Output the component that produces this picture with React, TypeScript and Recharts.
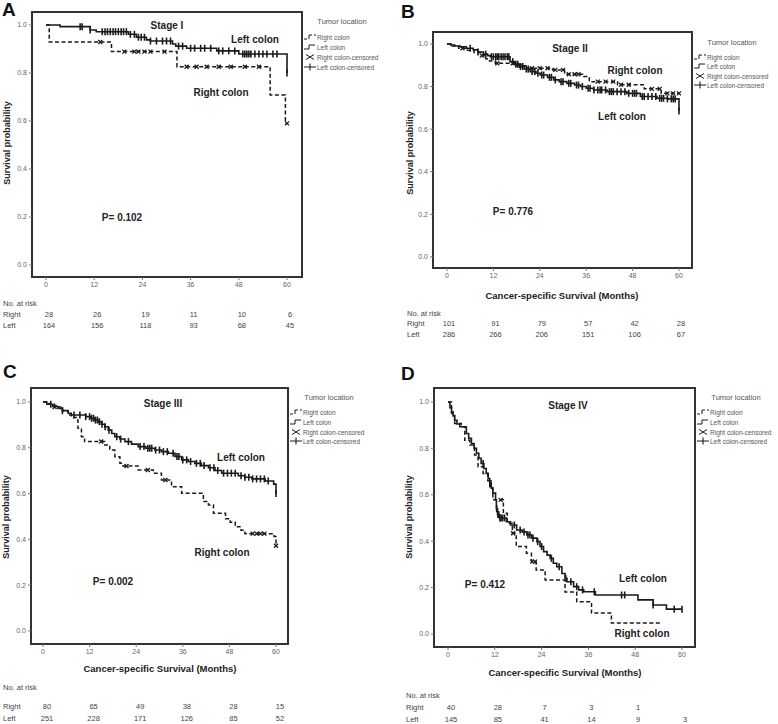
import { LineChart, Line, XAxis, YAxis, ReferenceArea } from "recharts";

const months = [0, 12, 24, 36, 48, 60];
const probTicks = [0, 0.2, 0.4, 0.6, 0.8, 1.0];

// Kaplan-Meier steps: [month, survival after the drop]
const stage1Left = [[0, 1], [3.5, 0.993], [11, 0.979], [12.5, 0.972], [20.5, 0.961], [22.5, 0.949], [25, 0.938], [26, 0.933], [31.5, 0.921], [32.3, 0.912], [35, 0.903], [42.5, 0.892], [48, 0.879], [60, 0.8]];
const stage1Right = [[0, 1], [0.8, 0.929], [16.3, 0.889], [32.6, 0.826], [55.8, 0.708], [59.6, 0.59]];
const stage1LeftCensor = [8.5, 9, 11, 14, 14.7, 15.3, 16, 16.7, 17.3, 18, 18.7, 19.3, 20, 21, 22, 23, 23.7, 24.5, 26, 27.5, 29, 30, 31, 33, 34, 36, 37, 38.5, 39.5, 41, 43, 44, 45.5, 47, 49, 49.5, 50, 50.5, 51, 52, 53, 54, 55, 56.5, 57.5, 60];
const stage1RightCensor = [13.5, 19.5, 22, 23, 24.5, 26, 29.5, 35, 37.5, 40, 43, 46, 49.5, 53, 60];

const stage2Left = [[0, 1], [1, 0.995], [2, 0.99], [3.4, 0.987], [5, 0.98], [6.8, 0.972], [8, 0.962], [9.4, 0.952], [10.5, 0.945], [11.2, 0.94], [16.3, 0.917], [17.5, 0.905], [18.9, 0.894], [20, 0.882], [21.5, 0.87], [23, 0.862], [24.1, 0.854], [26, 0.843], [27.6, 0.831], [29, 0.823], [31, 0.815], [33, 0.807], [34.5, 0.8], [36, 0.792], [37.9, 0.784], [41.4, 0.776], [46.5, 0.768], [50, 0.753], [54.3, 0.745], [57, 0.742], [60, 0.685]];
const stage2Right = [[0, 1], [1, 0.99], [3, 0.98], [5, 0.97], [7, 0.96], [9, 0.945], [10, 0.93], [11, 0.92], [12.5, 0.909], [18, 0.897], [21, 0.886], [27.3, 0.878], [30.4, 0.858], [35.4, 0.847], [36.8, 0.823], [44.1, 0.808], [51, 0.789], [55.4, 0.768]];
const stage2LeftCensor = [6, 8, 10, 11.5, 12, 12.6, 13, 13.4, 14, 14.5, 15, 15.6, 16, 17, 17.8, 18.3, 19, 19.6, 20.5, 21, 22, 22.7, 23.5, 24.5, 25, 26.5, 27, 28, 29.5, 30, 31.5, 32, 33.5, 34, 35, 36.5, 37, 38, 39, 39.6, 40, 41, 42, 42.5, 43, 44, 45, 46, 47, 48, 48.5, 49, 50.5, 51, 52, 53, 54, 55, 55.5, 56, 57, 58, 58.5, 59, 60];
const stage2RightCensor = [4, 9, 13, 17, 19, 22, 24, 26, 28, 30, 31.5, 33, 34, 39, 41, 43, 45, 47, 53, 55, 57, 58.5, 60];

const stage3Left = [[0, 1], [1, 0.99], [2.5, 0.98], [3.9, 0.972], [5, 0.962], [6.5, 0.951], [7.3, 0.943], [11, 0.936], [12.4, 0.929], [13.2, 0.921], [14.1, 0.914], [15, 0.903], [15.9, 0.892], [16.8, 0.877], [17.7, 0.862], [18.5, 0.848], [19.8, 0.838], [21.1, 0.827], [22.8, 0.816], [24.5, 0.805], [26.5, 0.798], [28.8, 0.79], [30.5, 0.783], [32.3, 0.776], [34, 0.762], [35.7, 0.747], [37.4, 0.74], [39.1, 0.732], [40.8, 0.722], [42.6, 0.713], [44.3, 0.701], [46, 0.689], [50.3, 0.678], [52, 0.671], [53.8, 0.664], [57.2, 0.655], [59.4, 0.641], [60, 0.6]];
const stage3Right = [[0, 1], [1.5, 0.99], [3, 0.978], [5, 0.962], [6.5, 0.943], [7.3, 0.932], [8.6, 0.921], [9, 0.885], [9.9, 0.848], [10.7, 0.827], [15.9, 0.812], [17.2, 0.79], [18.5, 0.761], [19.8, 0.732], [20.6, 0.72], [24.5, 0.703], [28.4, 0.689], [30.5, 0.659], [33.1, 0.63], [35.7, 0.601], [41.3, 0.565], [42.6, 0.55], [43.9, 0.514], [47, 0.49], [48.2, 0.475], [49.5, 0.455], [51, 0.44], [52, 0.425], [59.5, 0.412], [60, 0.372]];
const stage3LeftCensor = [2, 5, 8, 9.5, 11, 12, 12.5, 13, 13.5, 14, 14.5, 15.2, 16, 17, 19, 20, 22, 25, 26, 27, 27.5, 28, 29, 30, 31, 32, 33.5, 34.5, 35, 36, 37, 38, 39.5, 40.5, 41.5, 43, 44, 45, 46.5, 47.5, 48.5, 49.5, 51, 52, 53, 54, 55, 56, 57, 58, 60];
const stage3RightCensor = [3, 15, 21.5, 27, 31.5, 54, 55, 56, 57, 60];

const stage4Left = [[0, 1], [0.5, 0.975], [0.9, 0.957], [1.3, 0.94], [1.7, 0.921], [2.3, 0.905], [3, 0.893], [4.7, 0.864], [5.3, 0.843], [6, 0.821], [6.7, 0.8], [7.3, 0.779], [7.9, 0.757], [8.5, 0.735], [9.2, 0.713], [9.8, 0.692], [10.3, 0.67], [10.7, 0.649], [11.1, 0.628], [11.5, 0.607], [12.2, 0.578], [12.4, 0.54], [12.7, 0.515], [13.2, 0.5], [15, 0.484], [16, 0.47], [17.6, 0.448], [19, 0.44], [20.2, 0.427], [21.5, 0.413], [22.8, 0.398], [23.6, 0.377], [24.5, 0.355], [25.4, 0.34], [26.2, 0.326], [27, 0.305], [27.9, 0.29], [29.2, 0.261], [30, 0.24], [30.5, 0.225], [32.2, 0.204], [33.5, 0.19], [34.8, 0.182], [37.8, 0.168], [48.7, 0.147], [52.6, 0.125], [56, 0.107]];
const stage4Right = [[0, 1], [0.9, 0.95], [1.7, 0.907], [3.4, 0.893], [4.3, 0.835], [5.6, 0.814], [6.8, 0.771], [7.7, 0.721], [9, 0.692], [10.2, 0.66], [10.7, 0.635], [11.5, 0.578], [14.2, 0.52], [15.2, 0.477], [16.5, 0.434], [17.5, 0.377], [20.1, 0.348], [21.4, 0.312], [22.6, 0.276], [24.9, 0.233], [30, 0.181], [33, 0.139], [36.8, 0.09], [41.9, 0.047]];
const stage4LeftCensor = [9, 11, 12.5, 12.8, 13, 13.3, 13.6, 14, 14.5, 17, 18.5, 19.5, 20.5, 21, 21.8, 23, 24, 26.5, 28.5, 30.2, 31.5, 33, 34.5, 37.5, 44.5, 45.3, 52.6, 58, 60];
const stage4RightCensor = [13.5, 16.7, 21.6, 22.3];
const stage4RightEnd = 54.4;

// numbers at risk at 0, 12, 24, 36, 48, 60 months
const stage1RiskRight = ["28", "26", "19", "11", "10", "6"];
const stage1RiskLeft = ["164", "156", "118", "93", "68", "45"];
const stage2RiskRight = ["101", "91", "79", "57", "42", "28"];
const stage2RiskLeft = ["286", "266", "206", "151", "106", "67"];
const stage3RiskRight = ["80", "65", "49", "38", "28", "15"];
const stage3RiskLeft = ["251", "228", "171", "126", "85", "52"];
const stage4RiskRight = ["40", "28", "7", "3", "1", ""];
const stage4RiskLeft = ["145", "85", "41", "14", "9", "3"];

const legendItems = ["Right colon", "Left colon", "Right colon-censored", "Left colon-censored"];

const INK = "#1a1a1a";
const SANS = "'Liberation Sans', Arial, sans-serif";

type Pt = { t: number; s: number; c: boolean };

function buildCurve(steps: number[][], censor: number[], end?: number): Pt[] {
  const pts: Pt[] = steps.map(([t, s]) => ({ t, s, c: false }));
  censor.forEach((t) => {
    let s = steps[0][1];
    for (const [et, es] of steps) if (et <= t) s = es;
    pts.push({ t, s, c: true });
  });
  pts.sort((a, b) => a.t - b.t || Number(a.c) - Number(b.c));
  const last = pts[pts.length - 1];
  if (end !== undefined && end > last.t) pts.push({ t: end, s: last.s, c: false });
  return pts;
}

const leftMark = (p: any) =>
  p.payload && p.payload.c ? (
    <path key={p.index} d={`M${p.cx},${p.cy - 3.5}V${p.cy + 3.5}`} stroke={INK} strokeWidth={1.6} />
  ) : (
    <g key={p.index} />
  );

const rightMark = (p: any) =>
  p.payload && p.payload.c ? (
    <path
      key={p.index}
      d={`M${p.cx - 2},${p.cy - 2}L${p.cx + 2},${p.cy + 2}M${p.cx - 2},${p.cy + 2}L${p.cx + 2},${p.cy - 2}`}
      stroke={INK}
      strokeWidth={1.3}
    />
  ) : (
    <g key={p.index} />
  );

type Frame = { l: number; t: number; r: number; b: number };

function KmPanel({ frame, xDom, yDom, left, right }: { frame: Frame; xDom: number[]; yDom: number[]; left: Pt[]; right: Pt[] }) {
  const yw = 26;
  const top = 4;
  const xh = 22;
  const pad = 4;
  const w = frame.r - frame.l + yw + pad;
  const h = frame.b - frame.t + top + xh;
  const tickStyle = { fontSize: 7, fill: "#666", fontFamily: SANS };
  return (
    <div style={{ position: "absolute", left: frame.l - yw, top: frame.t - top }}>
      <LineChart width={w} height={h} margin={{ top, right: pad, bottom: 0, left: 0 }}>
        <XAxis
          type="number"
          dataKey="t"
          domain={xDom}
          ticks={months}
          interval={0}
          allowDataOverflow
          axisLine={false}
          tickLine={{ stroke: "#777" }}
          tickSize={3}
          height={xh}
          tick={tickStyle}
        />
        <YAxis
          type="number"
          dataKey="s"
          domain={yDom}
          ticks={probTicks}
          interval={0}
          allowDataOverflow
          axisLine={false}
          tickLine={{ stroke: "#777" }}
          tickSize={3}
          width={yw}
          tick={tickStyle}
          tickFormatter={(v: number) => v.toFixed(1)}
        />
        <ReferenceArea
          x1={xDom[0]}
          x2={xDom[1]}
          y1={yDom[0]}
          y2={yDom[1]}
          ifOverflow="visible"
          fill="none"
          fillOpacity={0}
          stroke="#333"
          strokeWidth={2}
        />
        <Line
          data={right}
          dataKey="s"
          type="stepAfter"
          stroke={INK}
          strokeWidth={1.5}
          strokeDasharray="4 2.5"
          dot={rightMark}
          activeDot={false}
          isAnimationActive={false}
        />
        <Line
          data={left}
          dataKey="s"
          type="stepAfter"
          stroke={INK}
          strokeWidth={1.6}
          dot={leftMark}
          activeDot={false}
          isAnimationActive={false}
        />
      </LineChart>
    </div>
  );
}

function Legend({ cx, tx, ys, ty }: { cx: number; tx: number; ys: number[]; ty: number }) {
  const [y0, y1, y2, y3] = ys;
  return (
    <g fontFamily={SANS} fill="#555">
      <text x={cx} y={ty} fontSize={7.5} textAnchor="middle" dominantBaseline="central">Tumor location</text>
      <path d={`M${tx - 13},${y0 + 2}h3M${tx - 8},${y0 + 2}v-4h3M${tx - 3},${y0 - 2}h2`} stroke={INK} strokeWidth={1} fill="none" />
      <path d={`M${tx - 13},${y1 + 2}h5v-4h6`} stroke={INK} strokeWidth={1} fill="none" />
      <path d={`M${tx - 11},${y2 - 2.5}Q${tx - 7},${y2} ${tx - 3},${y2 + 2.5}M${tx - 11},${y2 + 2.5}Q${tx - 7},${y2} ${tx - 3},${y2 - 2.5}`} stroke={INK} strokeWidth={1} fill="none" />
      <path d={`M${tx - 13},${y3}h12M${tx - 7},${y3 - 3.5}v7`} stroke={INK} strokeWidth={1.1} fill="none" />
      {legendItems.map((s, i) => (
        <text key={s} x={tx} y={ys[i]} fontSize={6.5} dominantBaseline="central">{s}</text>
      ))}
    </g>
  );
}

function RiskTable({ lx, ys, x0, step, right, left }: { lx: number; ys: number[]; x0: number; step: number; right: string[]; left: string[] }) {
  return (
    <g fontFamily={SANS} fontSize={7.5} fill="#444">
      <text x={lx} y={ys[0]} dominantBaseline="central">No. at risk</text>
      <text x={lx} y={ys[1]} dominantBaseline="central">Right</text>
      <text x={lx} y={ys[2]} dominantBaseline="central">Left</text>
      {right.map((v, i) => (
        <text key={"r" + i} x={x0 + i * step} y={ys[1]} textAnchor="middle" dominantBaseline="central">{v}</text>
      ))}
      {left.map((v, i) => (
        <text key={"l" + i} x={x0 + i * step} y={ys[2]} textAnchor="middle" dominantBaseline="central">{v}</text>
      ))}
    </g>
  );
}

function Note({ x, y, children, size = 10 }: { x: number; y: number; children: any; size?: number }) {
  return (
    <text x={x} y={y} fontSize={size} fontWeight="bold" fill="#222" fontFamily={SANS} textAnchor="middle" dominantBaseline="central">
      {children}
    </text>
  );
}

function YTitle({ x, y }: { x: number; y: number }) {
  return (
    <text x={x} y={y} transform={`rotate(-90 ${x} ${y})`} fontSize={9} fontWeight="bold" fill="#222" fontFamily={SANS} textAnchor="middle" dominantBaseline="central">
      Survival probability
    </text>
  );
}

export default function App() {
  const a = { left: buildCurve(stage1Left, stage1LeftCensor), right: buildCurve(stage1Right, stage1RightCensor) };
  const b = { left: buildCurve(stage2Left, stage2LeftCensor), right: buildCurve(stage2Right, stage2RightCensor) };
  const c = { left: buildCurve(stage3Left, stage3LeftCensor), right: buildCurve(stage3Right, stage3RightCensor) };
  const d = { left: buildCurve(stage4Left, stage4LeftCensor), right: buildCurve(stage4Right, stage4RightCensor, stage4RightEnd) };

  return (
    <div style={{ position: "absolute", left: 0, top: 0, width: 778, height: 724, background: "#fff", overflow: "hidden" }}>
      <KmPanel frame={{ l: 32, t: 12, r: 302, b: 277 }} xDom={[-3.49, 63.73]} yDom={[-0.05, 1.054]} {...a} />
      <KmPanel frame={{ l: 433, t: 32, r: 692, b: 268 }} xDom={[-3.62, 63.36]} yDom={[-0.052, 1.056]} {...b} />
      <KmPanel frame={{ l: 31, t: 388, r: 288, b: 644 }} xDom={[-3.09, 63.09]} yDom={[-0.057, 1.061]} {...c} />
      <KmPanel frame={{ l: 434, t: 388, r: 695, b: 647 }} xDom={[-3.59, 63.33]} yDom={[-0.056, 1.06]} {...d} />

      <svg width={778} height={724} style={{ position: "absolute", left: 0, top: 0, pointerEvents: "none" }}>
        <g fontFamily={SANS} fontWeight="bold" fontSize={19} fill="#111">
          <text x={2} y={16}>A</text>
          <text x={401} y={18}>B</text>
          <text x={3} y={378}>C</text>
          <text x={401} y={380}>D</text>
        </g>

        <YTitle x={7} y={143} />
        <YTitle x={410} y={153} />
        <YTitle x={6} y={517} />
        <YTitle x={409} y={517} />

        <Note x={562} y={295} size={9.5}>Cancer-specific Survival (Months)</Note>
        <Note x={160} y={668} size={9.5}>Cancer-specific Survival (Months)</Note>
        <Note x={565} y={672} size={9.5}>Cancer-specific Survival (Months)</Note>

        <Note x={167} y={25}>Stage I</Note>
        <Note x={255} y={39}>Left colon</Note>
        <Note x={221} y={92}>Right colon</Note>
        <Note x={122} y={217}>P= 0.102</Note>

        <Note x={570} y={48}>Stage II</Note>
        <Note x={635} y={70}>Right colon</Note>
        <Note x={622} y={116}>Left colon</Note>
        <Note x={513} y={211}>P= 0.776</Note>

        <Note x={163} y={403}>Stage III</Note>
        <Note x={241} y={457}>Left colon</Note>
        <Note x={222} y={552}>Right colon</Note>
        <Note x={113} y={581}>P= 0.002</Note>

        <Note x={568} y={405}>Stage IV</Note>
        <Note x={643} y={578}>Left colon</Note>
        <Note x={642} y={633}>Right colon</Note>
        <Note x={485} y={584}>P= 0.412</Note>

        <Legend cx={342} ty={21} tx={317} ys={[37, 47, 57, 67]} />
        <Legend cx={732} ty={42} tx={707} ys={[57, 66, 76, 85]} />
        <Legend cx={329} ty={397} tx={303} ys={[412, 422, 432, 441]} />
        <Legend cx={736} ty={397} tx={710} ys={[412, 422, 432, 441]} />

        <RiskTable lx={3} ys={[303, 314, 325]} x0={49} step={48.2} right={stage1RiskRight} left={stage1RiskLeft} />
        <RiskTable lx={407} ys={[313, 323, 334]} x0={449} step={46.4} right={stage2RiskRight} left={stage2RiskLeft} />
        <RiskTable lx={3} ys={[687, 706, 718]} x0={47} step={46.6} right={stage3RiskRight} left={stage3RiskLeft} />
        <RiskTable lx={406} ys={[695, 707, 719]} x0={451} step={46.8} right={stage4RiskRight} left={stage4RiskLeft} />
      </svg>
    </div>
  );
}
